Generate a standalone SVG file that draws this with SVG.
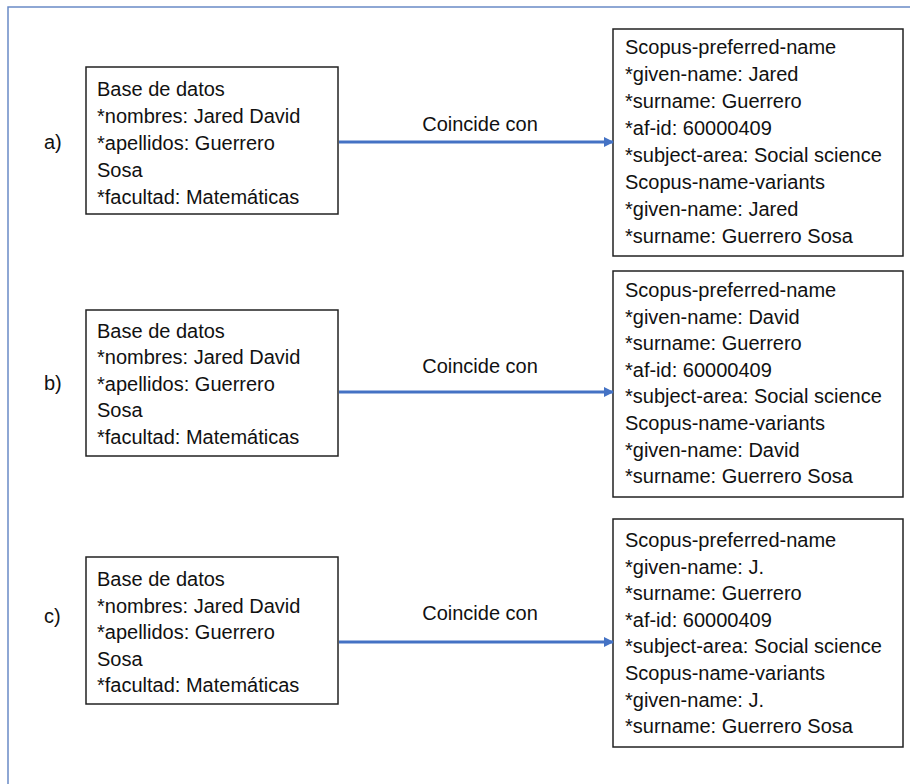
<svg xmlns="http://www.w3.org/2000/svg" width="910" height="784" viewBox="0 0 910 784">
<defs>
<style>
text{font-family:"Liberation Sans",Arial,sans-serif;font-size:20px;fill:#111}
.box{fill:#fff;stroke:#222;stroke-width:1.5}
.conn{stroke:#4472c4;stroke-width:3;fill:none}
.frame{stroke:#6a8ac6;stroke-width:1.5;fill:none}
</style>
<marker id="ah" markerWidth="10" markerHeight="10" refX="9" refY="5" orient="auto" markerUnits="userSpaceOnUse">
<path d="M0,0 L10,5 L0,10 Z" fill="#4472c4"/>
</marker>
</defs>
<rect width="910" height="784" fill="#fff"/>
<path class="frame" d="M910,7 H8 V784"/>

<g id="label-a"><text x="44" y="149">a)</text></g>
<g id="label-b"><text x="44" y="390">b)</text></g>
<g id="label-c"><text x="44" y="623">c)</text></g>

<g id="db-a">
<rect class="box" x="86" y="67" width="252" height="147"/>
<text x="97" y="96">Base de datos</text>
<text x="97" y="123">*nombres: Jared David</text>
<text x="97" y="150">*apellidos: Guerrero</text>
<text x="97" y="177">Sosa</text>
<text x="97" y="204">*facultad: Matemáticas</text>
</g>
<g id="db-b">
<rect class="box" x="86" y="310" width="252" height="146"/>
<text x="97" y="338">Base de datos</text>
<text x="97" y="364">*nombres: Jared David</text>
<text x="97" y="391">*apellidos: Guerrero</text>
<text x="97" y="417">Sosa</text>
<text x="97" y="444">*facultad: Matemáticas</text>
</g>
<g id="db-c">
<rect class="box" x="86" y="557" width="252" height="147"/>
<text x="97" y="586">Base de datos</text>
<text x="97" y="613">*nombres: Jared David</text>
<text x="97" y="639">*apellidos: Guerrero</text>
<text x="97" y="666">Sosa</text>
<text x="97" y="692">*facultad: Matemáticas</text>
</g>

<g id="scopus-a">
<rect class="box" x="613" y="29" width="290" height="227"/>
<text x="625" y="54">Scopus-preferred-name</text>
<text x="625" y="81">*given-name: Jared</text>
<text x="625" y="108">*surname: Guerrero</text>
<text x="625" y="135">*af-id: 60000409</text>
<text x="625" y="162">*subject-area: Social science</text>
<text x="625" y="189">Scopus-name-variants</text>
<text x="625" y="216">*given-name: Jared</text>
<text x="625" y="243">*surname: Guerrero Sosa</text>
</g>
<g id="scopus-b">
<rect class="box" x="613" y="271" width="290" height="226"/>
<text x="625" y="297">Scopus-preferred-name</text>
<text x="625" y="324">*given-name: David</text>
<text x="625" y="350">*surname: Guerrero</text>
<text x="625" y="377">*af-id: 60000409</text>
<text x="625" y="403">*subject-area: Social science</text>
<text x="625" y="430">Scopus-name-variants</text>
<text x="625" y="457">*given-name: David</text>
<text x="625" y="483">*surname: Guerrero Sosa</text>
</g>
<g id="scopus-c">
<rect class="box" x="613" y="519" width="290" height="228"/>
<text x="625" y="547">Scopus-preferred-name</text>
<text x="625" y="574">*given-name: J.</text>
<text x="625" y="600">*surname: Guerrero</text>
<text x="625" y="627">*af-id: 60000409</text>
<text x="625" y="653">*subject-area: Social science</text>
<text x="625" y="680">Scopus-name-variants</text>
<text x="625" y="707">*given-name: J.</text>
<text x="625" y="733">*surname: Guerrero Sosa</text>
</g>

<g id="connectors">
<line class="conn" x1="339" y1="142" x2="613" y2="142" marker-end="url(#ah)"/>
<line class="conn" x1="339" y1="392" x2="613" y2="392" marker-end="url(#ah)"/>
<line class="conn" x1="339" y1="642" x2="613" y2="642" marker-end="url(#ah)"/>
<text x="480" y="131" text-anchor="middle">Coincide con</text>
<text x="480" y="373" text-anchor="middle">Coincide con</text>
<text x="480" y="620" text-anchor="middle">Coincide con</text>
</g>
</svg>
